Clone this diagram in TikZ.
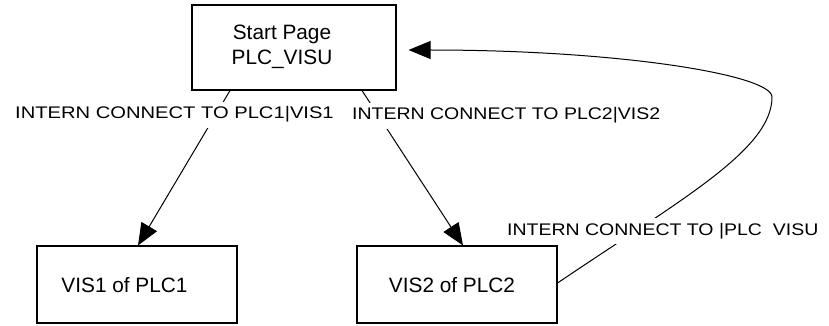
\documentclass[tikz,border=0pt]{standalone}
\usepackage{fontspec}
\setmainfont{Liberation Sans}
\newfontfamily\labfont[FakeStretch=1.2]{Liberation Sans}
\newfontfamily\labfontn[FakeStretch=1.16]{Liberation Sans}
\usetikzlibrary{arrows.meta}
\tikzset{
  box/.style={draw, line width=1.1pt, inner sep=0pt},
  boxtext/.style={inner sep=0pt, anchor=base, font=\fontsize{20.8}{25}\selectfont},
  lab/.style={fill=white, inner xsep=1pt, inner ysep=5pt, anchor=base west, font=\labfont\fontsize{16.8}{20}\selectfont},
  labn/.style={lab, font=\labfontn\fontsize{16.8}{20}\selectfont},
  conn/.style={line width=1pt, -{Triangle[length=22pt,width=18pt]}}
}
\begin{document}
\begin{tikzpicture}[x=1pt,y=-1pt]
\useasboundingbox[fill=white] (0,0) rectangle (829,326);
% boxes
\node[box, minimum width=204pt, minimum height=85pt] (start) at (294,47.5) {};
\node[box, minimum width=200pt, minimum height=77pt] (v1) at (137,284.5) {};
\node[box, minimum width=200pt, minimum height=77pt] (v2) at (457,284.5) {};
% box texts
\node[boxtext] (st1) at (282,40) {Start Page};
\node[boxtext] (st2) at (282,65) {PLC\_VISU};
\node[boxtext] (t1) at (124.5,292) {VIS1 of PLC1};
\node[boxtext] (t2) at (452,292) {VIS2 of PLC2};
% connectors
\coordinate (top) at (772,97);
\draw[conn] ([xshift=-64pt]start.south) -- ([xshift=1pt]v1.north);
\draw[conn] ([xshift=68pt]start.south) -- ([xshift=6pt]v2.north);
\draw[conn, shorten >=12pt] ([yshift=1.5pt]v2.east) .. controls (680,200) and (772,150) .. (top)
   .. controls (772,75) and (620,50) .. ([yshift=-2.5pt]start.east);
% labels (drawn over the connectors)
\node[lab] (l1) at (14,119) {INTERN CONNECT TO PLC1|VIS1};
\node[labn] (l2) at (351,120) {INTERN CONNECT TO PLC2|VIS2};
\node[labn] (l3) at (506,235) {INTERN CONNECT TO |PLC\ \ VISU};
\end{tikzpicture}
\end{document}
